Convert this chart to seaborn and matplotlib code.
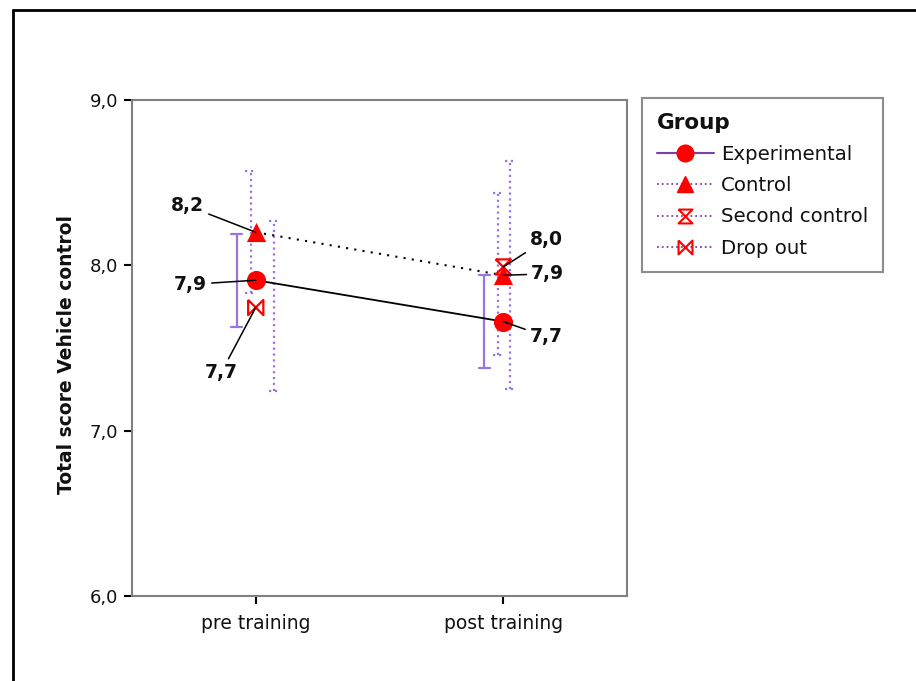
import numpy as np
import pandas as pd
import matplotlib
matplotlib.use("Agg")
import matplotlib.pyplot as plt
from matplotlib.lines import Line2D
import seaborn as sns

# ---- data ----
phases = ["pre training", "post training"]
groups = ["Experimental", "Control", "Second control", "Drop out"]
means_exp = [7.91, 7.66]
means_ctl = [8.20, 7.94]
means_sec = [np.nan, 7.99]
means_drop = [7.745, np.nan]
lo_exp = [7.63, 7.38]
hi_exp = [8.19, 7.94]
lo_ctl = [7.83, 7.46]
hi_ctl = [8.57, 8.44]
lo_sec = [np.nan, 7.25]
hi_sec = [np.nan, 8.63]
lo_drop = [7.24, np.nan]
hi_drop = [8.27, np.nan]
yticks = [6.0, 7.0, 8.0, 9.0]
ytick_labels = ["6,0", "7,0", "8,0", "9,0"]

means = [means_exp, means_ctl, means_sec, means_drop]
lows = [lo_exp, lo_ctl, lo_sec, lo_drop]
highs = [hi_exp, hi_ctl, hi_sec, hi_drop]

rows = []
for g, m, lo, hi in zip(groups, means, lows, highs):
    for i, p in enumerate(phases):
        rows.append(dict(group=g, phase=p, x=i, mean=m[i], lo=lo[i], hi=hi[i]))
df = pd.DataFrame(rows)

# ---- style ----
sns.set_theme(style="white")
plt.rcParams["font.family"] = ["DejaVu Sans"]

RED = "#FF0000"
PURPLE_BAR = "#9B74E0"
PURPLE_LEG = "#7B3FA8"
TXT = "#111111"

hourglass = [(-1, 1), (1, 1), (-1, -1), (1, -1), (-1, 1)]
bowtie = [(-1, 1), (1, -1), (1, 1), (-1, -1), (-1, 1)]
marker_map = {"Experimental": "o", "Control": "^", "Second control": hourglass, "Drop out": bowtie}
msize = {"Experimental": 190, "Control": 190, "Second control": 120, "Drop out": 120}

fig = plt.figure(figsize=(9.16, 6.81), dpi=100)
ax = fig.add_axes([132 / 916, 1 - 596 / 681, 495 / 916, 496 / 681])

# error bars (dodged)
offsets = {"Experimental": -0.077, "Control": -0.02, "Second control": 0.028, "Drop out": 0.075}
for g in groups:
    sub = df[df.group == g].dropna(subset=["mean"])
    ls = "-" if g == "Experimental" else ":"
    for _, r in sub.iterrows():
        xe = r.x + offsets[g]
        ax.plot([xe, xe], [r.lo, r.hi], color=PURPLE_BAR, lw=1.6, ls=ls, zorder=2)
        cw = 0.022
        for yv in (r.lo, r.hi):
            ax.plot([xe - cw, xe + cw], [yv, yv], color=PURPLE_BAR, lw=1.6, ls=ls, zorder=2)

# lines between phases
sns.lineplot(data=df[df.group == "Experimental"], x="x", y="mean", ax=ax,
             color="black", lw=1.3, linestyle="-", zorder=3, legend=False)
sns.lineplot(data=df[df.group == "Control"], x="x", y="mean", ax=ax,
             color="black", lw=1.5, linestyle=(0, (1, 3)), zorder=3, legend=False)

# markers
for g in groups:
    sub = df[df.group == g].dropna(subset=["mean"])
    filled = g in ("Experimental", "Control")
    sns.scatterplot(data=sub, x="x", y="mean", ax=ax, marker=marker_map[g], s=msize[g],
                    color=RED if filled else "none", edgecolor=RED,
                    linewidth=0 if filled else 1.6, zorder=5, legend=False)

# value labels
def fmt(v):
    return f"{v:.1f}".replace(".", ",")

label_offsets = {
    ("Control", 0): (-49, 19),
    ("Experimental", 0): (-47, -3),
    ("Drop out", 0): (-25, -47),
    ("Second control", 1): (31, 20),
    ("Control", 1): (32, 1),
    ("Experimental", 1): (31, -11),
}
for (g, i), (dx, dy) in label_offsets.items():
    v = df[(df.group == g) & (df.x == i)]["mean"].values[0]
    ax.annotate(fmt(v), xy=(i, v), xytext=(dx, dy), textcoords="offset points",
                ha="center", va="center", fontsize=13.5, fontweight="bold", color=TXT,
                arrowprops=dict(arrowstyle="-", color="black", lw=1.1, shrinkA=1, shrinkB=0),
                zorder=6)

ax.set_xlim(-0.5, 1.5)
ax.set_ylim(6.0, 9.0)
ax.set_xticks([0, 1])
ax.set_xticklabels(phases, fontsize=13.5)
ax.set_yticks(yticks)
ax.set_yticklabels(ytick_labels, fontsize=13)
ax.set_xlabel("")
ax.set_ylabel("Total score Vehicle control", fontsize=13.5, fontweight="bold", color=TXT)
ax.yaxis.set_label_coords((76 - 132) / 495, (596 - 355) / 496)
ax.tick_params(axis="both", which="major", length=6, width=1.5, color="black",
               direction="out", bottom=True, left=True, labelcolor=TXT)
ax.tick_params(axis="x", pad=7)
ax.tick_params(axis="y", pad=4)
for s in ax.spines.values():
    s.set_color("#808080")
    s.set_linewidth(1.5)

# legend
handles = [
    Line2D([], [], color=PURPLE_LEG, lw=1.5, ls="-", marker="o", markersize=12,
           markerfacecolor=RED, markeredgecolor=RED),
    Line2D([], [], color=PURPLE_LEG, lw=1.3, ls=":", marker="^", markersize=12,
           markerfacecolor=RED, markeredgecolor=RED),
    Line2D([], [], color=PURPLE_LEG, lw=1.3, ls=":", marker=hourglass, markersize=10,
           markerfacecolor="none", markeredgecolor=RED, markeredgewidth=1.5),
    Line2D([], [], color=PURPLE_LEG, lw=1.3, ls=":", marker=bowtie, markersize=10,
           markerfacecolor="none", markeredgecolor=RED, markeredgewidth=1.5),
]
leg = fig.legend(handles, groups, title="Group", loc="upper left",
                 bbox_to_anchor=(642 / 916, 1 - 98 / 681), fontsize=14.2,
                 title_fontproperties={"weight": "bold", "size": 15.5},
                 frameon=True, fancybox=False, edgecolor="#707070",
                 handlelength=2.9, handletextpad=0.35, labelspacing=0.62,
                 borderpad=0.75, borderaxespad=0, alignment="left")
leg.get_frame().set_linewidth(1.5)
leg.get_title().set_color(TXT)
for t in leg.get_texts():
    t.set_color(TXT)

# outer border (left and top)
fig.add_artist(Line2D([13 / 916, 13 / 916], [0, 1 - 10 / 681], color="black", lw=2,
                      transform=fig.transFigure))
fig.add_artist(Line2D([13 / 916, 1], [1 - 10 / 681, 1 - 10 / 681], color="black", lw=2,
                      transform=fig.transFigure))

fig.savefig("out.png", dpi=100)
